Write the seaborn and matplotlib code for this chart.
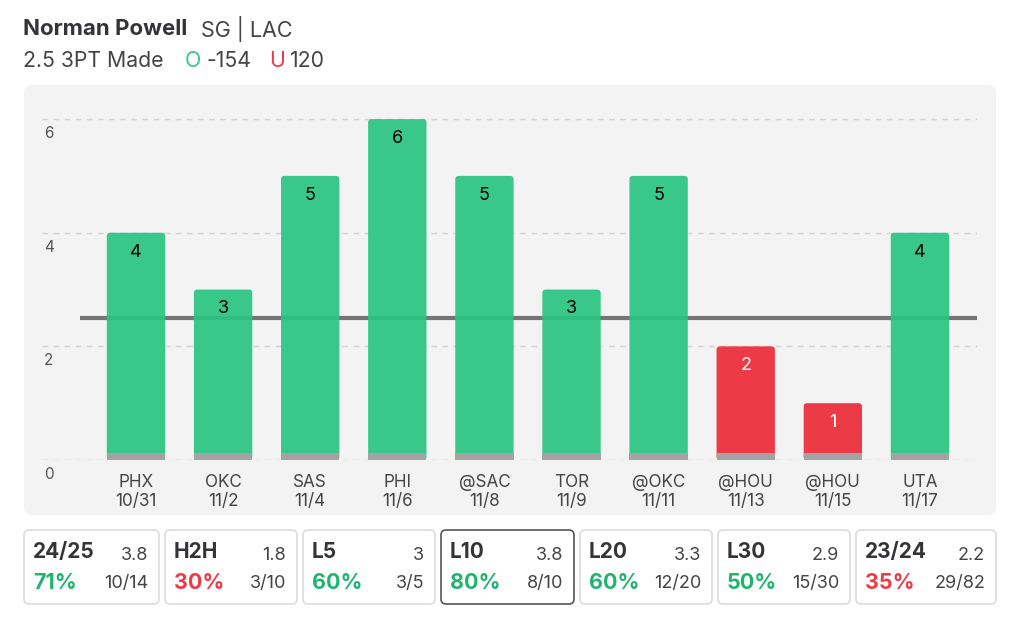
import numpy as np
import pandas as pd
import matplotlib.pyplot as plt
import seaborn as sns
from matplotlib.patches import FancyBboxPatch

# game log
opponents = ["PHX", "OKC", "SAS", "PHI", "@SAC", "TOR", "@OKC", "@HOU", "@HOU", "UTA"]
dates = ["10/31", "11/2", "11/4", "11/6", "11/8", "11/9", "11/11", "11/13", "11/15", "11/17"]
made = [4, 3, 5, 6, 5, 3, 5, 2, 1, 4]
line = 2.5

# summary cards
card_labels = ["24/25", "H2H", "L5", "L10", "L20", "L30", "23/24"]
card_avgs = ["3.8", "1.8", "3", "3.8", "3.3", "2.9", "2.2"]
card_pcts = [71, 30, 60, 80, 60, 50, 35]
card_hits = ["10/14", "3/10", "3/5", "8/10", "12/20", "15/30", "29/82"]

# card boxes (pixel layout)
card_left = [24, 165, 303, 441, 580, 718, 856]
card_w = [135, 132, 132, 133, 132, 132, 140]

# bars are slightly see-through so the line shows faintly behind them
GREEN = "#2ac581"
RED = "#ed2a38"
TXT_GREEN = "#1fb56f"
TXT_RED = "#ee3a47"
BASE = "#a3a3a3"
DARK = "#333338"

sns.set_style("white")
plt.rcParams["font.family"] = ["Inter", "DejaVu Sans"]

df = pd.DataFrame({"game": [f"{o}\n{d}" for o, d in zip(opponents, dates)],
                   "made": made})
df["res"] = np.where(df["made"] > line, "over", "under")

fig = plt.figure(figsize=(10.24, 6.17), dpi=100)

# background layer in pixel coords
bg = fig.add_axes([0, 0, 1, 1], zorder=-1)
bg.set_xlim(0, 1024)
bg.set_ylim(617, 0)
bg.axis("off")
bg.add_patch(FancyBboxPatch((24, 85), 972, 430, boxstyle="round,pad=0,rounding_size=8",
                            fc="#f3f3f3", ec="none"))

# header
bg.text(23, 29, "Norman Powell", fontsize=16, fontweight="bold", color=DARK, va="center")
bg.text(201, 29, "SG | LAC", fontsize=15.5, color="#444", va="center")
bg.text(23, 61, "2.5 3PT Made", fontsize=15.3, color="#444", va="center")
bg.text(185, 61, "O", fontsize=15.3, color="#3cc98a", va="center")
bg.text(206, 61, "-154", fontsize=15.3, color="#444", va="center")
bg.text(269, 61, "U", fontsize=15.3, color=TXT_RED, va="center")
bg.text(289, 61, "120", fontsize=15.3, color="#444", va="center")

# cards
for i, lab in enumerate(card_labels):
    cx, cw = card_left[i], card_w[i]
    ec = "#555" if lab == "L10" else "#dcdcdc"
    bg.add_patch(FancyBboxPatch((cx, 530), cw, 74, boxstyle="round,pad=0,rounding_size=5",
                                fc="white", ec=ec, lw=1.2))
    bg.text(cx + 9, 552, lab, fontsize=15, fontweight="bold", color=DARK, va="center")
    bg.text(cx + cw - 11, 556, card_avgs[i], fontsize=13, color="#444", va="center", ha="right")
    pc = TXT_GREEN if card_pcts[i] >= 50 else TXT_RED
    bg.text(cx + 9, 583, f"{card_pcts[i]}%", fontsize=15.5, fontweight="bold", color=pc, va="center")
    bg.text(cx + cw - 11, 583, card_hits[i], fontsize=13, color="#444", va="center", ha="right")

# main chart
ax = fig.add_axes([42 / 1024, (617 - 460) / 617, 935 / 1024, 375 / 617])
ax.set_facecolor("none")
sns.barplot(data=df, x="game", y="made", hue="res", palette={"over": GREEN, "under": RED},
            dodge=False, width=0.67, legend=False, ax=ax, zorder=2, saturation=1)

# round the bar tops
for p in list(ax.patches):
    x, y = p.get_x(), p.get_y()
    w, h = p.get_width(), p.get_height()
    if h <= 0:
        continue
    ax.add_patch(FancyBboxPatch((x, y), w, h, boxstyle="round,pad=0,rounding_size=0.04",
                                mutation_aspect=1.53, fc=p.get_facecolor(), ec="none",
                                alpha=0.92, zorder=2))
    p.set_visible(False)

for cont in ax.containers:
    texts = ax.bar_label(cont, padding=-20, fontsize=13)
    for t, p in zip(texts, cont.patches):
        t.set_color("white" if p.get_height() <= line else "black")
        t.set_zorder(5)

# gray base strip
sns.barplot(x=df["game"], y=np.full(len(df), 0.13), color=BASE, width=0.67, ax=ax,
            zorder=3, saturation=1, linewidth=0, edgecolor="none")

ax.set_xlim(-1.079, 9.655)
ax.set_ylim(0, 6.6)
ax.hlines(line, -0.643, 9.655, color="#757575", lw=3, zorder=1.5)

ax.set_yticks([0, 2, 4, 6])
ax.set_yticklabels([])
ax.yaxis.grid(True, ls=(0, (4, 4)), color="#d3d3d3", lw=1)
ax.set_axisbelow(True)
for v in [0, 2, 4, 6]:
    ax.text(-1.06, v - 0.12, str(v), fontsize=11, color="#555", va="top", ha="left")

ax.tick_params(axis="x", length=0, pad=10, labelsize=12.3, labelcolor="#444")
ax.tick_params(axis="y", length=0)
ax.set_xlabel("")
ax.set_ylabel("")
sns.despine(ax=ax, left=True, bottom=True)

fig.savefig("out.png", dpi=100)
